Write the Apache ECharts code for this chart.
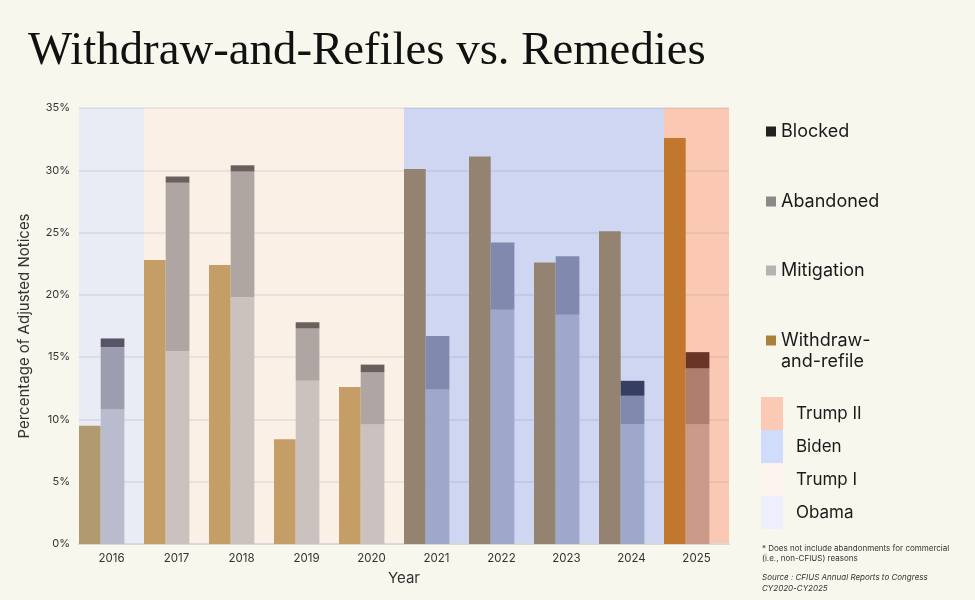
<!DOCTYPE html>
<html>
<head>
<meta charset="utf-8">
<script src="https://cdn.jsdelivr.net/npm/echarts@6/dist/echarts.min.js"></script>
<style>
  html, body { margin: 0; padding: 0; background: #f8f7ed; }
  #chart { width: 975px; height: 600px; }
</style>
</head>
<body>
<div id="chart"></div>
<script>
// ---- data ----
const years = ['2016', '2017', '2018', '2019', '2020', '2021', '2022', '2023', '2024', '2025'];
const withdrawRefile = [9.5, 22.8, 22.4, 8.4, 12.6, 30.1, 31.1, 22.6, 25.1, 32.6];
const mitigation = [10.8, 15.5, 19.8, 13.1, 9.6, 12.4, 18.8, 18.4, 9.6, 9.6];
const abandoned = [5.0, 13.5, 10.1, 4.2, 4.2, 4.3, 5.4, 4.7, 2.3, 4.5];
const blocked = [0.7, 0.5, 0.5, 0.5, 0.6, 0, 0, 0, 1.2, 1.3];
const yearEra = ['Obama', 'Trump I', 'Trump I', 'Trump I', 'Trump I', 'Biden', 'Biden', 'Biden', 'Biden', 'Trump II'];
const eras = ['Trump II', 'Biden', 'Trump I', 'Obama'];
const yMax = 35;
const yStep = 5;

// ---- styles ----
const FONT = 'Inter, "Noto Sans", sans-serif';
const bandColor = { 'Obama': '#e9ecf5', 'Trump I': '#faf0e6', 'Biden': '#ced6f2', 'Trump II': '#fbc9b3' };
const bandLegendColor = { 'Obama': '#edf0fc', 'Trump I': '#fdf3ee', 'Biden': '#d0dcfc', 'Trump II': '#fcc9b4' };
const palette = {
  'Withdraw-and-refile': { legend: '#a8823a', 'Obama': '#b29a70', 'Trump I': '#c49e66', 'Biden': '#948371', 'Trump II': '#c2772f' },
  'Mitigation': { legend: '#b4b4b4', 'Obama': '#b8bccd', 'Trump I': '#cbc2bf', 'Biden': '#9da8cb', 'Trump II': '#cc9a8a' },
  'Abandoned': { legend: '#8a8a8a', 'Obama': '#9b9eae', 'Trump I': '#afa5a2', 'Biden': '#808aae', 'Trump II': '#b07e6e' },
  'Blocked': { legend: '#222222', 'Obama': '#555566', 'Trump I': '#6a5f5d', 'Biden': '#363f62', 'Trump II': '#6a3526' }
};

function coloredData(name, values) {
  return values.map((v, i) => ({ value: v, itemStyle: { color: palette[name][yearEra[i]] } }));
}

const W_BAR = 21.7, S_BAR = 23.7, SPACER = 19.6;

const series = [];
// era background bands
eras.forEach(era => {
  series.push({
    name: era,
    type: 'bar',
    xAxisIndex: 1,
    stack: 'era',
    barCategoryGap: '0%',
    barWidth: '100%',
    silent: true,
    z: 1,
    itemStyle: { color: bandColor[era] },
    data: years.map((y, i) => yearEra[i] === era ? yMax : '-')
  });
});
series.push({
  name: 'Withdraw-and-refile', type: 'bar', barWidth: W_BAR, barGap: '0%', z: 5,
  itemStyle: { color: palette['Withdraw-and-refile'].legend },
  data: coloredData('Withdraw-and-refile', withdrawRefile)
});
series.push({
  name: 'Mitigation', type: 'bar', stack: 'remedy', barWidth: S_BAR, barGap: '0%', z: 5,
  itemStyle: { color: palette['Mitigation'].legend },
  data: coloredData('Mitigation', mitigation)
});
series.push({
  name: 'Abandoned', type: 'bar', stack: 'remedy', barWidth: S_BAR, barGap: '0%', z: 5,
  itemStyle: { color: palette['Abandoned'].legend },
  data: coloredData('Abandoned', abandoned)
});
series.push({
  name: 'Blocked', type: 'bar', stack: 'remedy', barWidth: S_BAR, barGap: '0%', z: 5,
  itemStyle: { color: palette['Blocked'].legend },
  data: coloredData('Blocked', blocked)
});
series.push({
  name: 'spacer', type: 'bar', barWidth: SPACER, barGap: '0%', silent: true,
  data: years.map(() => '-')
});

function seriesLegend(name, top, formatter) {
  return {
    data: [name],
    left: 766, top: top, padding: 0,
    orient: 'vertical',
    selectedMode: false,
    icon: 'rect', itemWidth: 10, itemHeight: 10,
    textStyle: { fontFamily: FONT, fontSize: 18, color: '#1a1a1a', lineHeight: 21 },
    formatter: formatter
  };
}

const option = {
  backgroundColor: '#f8f7ed',
  animation: false,
  title: [
    {
      text: 'Withdraw-and-Refiles vs. Remedies',
      left: 23, top: 23,
      textStyle: { fontFamily: '"Liberation Serif", serif', fontSize: 46.8, fontWeight: 'normal', color: '#111' }
    },
    {
      text: '* Does not include abandonments for commercial\n(i.e., non-CFIUS) reasons',
      left: 757, top: 538,
      textStyle: { fontFamily: FONT, fontSize: 8, lineHeight: 10.5, fontWeight: 'normal', color: '#333' }
    },
    {
      text: 'Source : CFIUS Annual Reports to Congress\nCY2020-CY2025',
      left: 757, top: 567,
      textStyle: { fontFamily: FONT, fontSize: 8, lineHeight: 11, fontWeight: 'normal', fontStyle: 'italic', color: '#333' }
    }
  ],
  legend: [
    seriesLegend('Blocked', 121),
    seriesLegend('Abandoned', 191),
    seriesLegend('Mitigation', 260),
    seriesLegend('Withdraw-and-refile', 309, () => '\nWithdraw-\nand-refile'),
    {
      data: eras.map(e => ({ name: e, itemStyle: { color: bandLegendColor[e] } })),
      left: 761, top: 397, padding: 0,
      orient: 'vertical',
      selectedMode: false,
      icon: 'rect', itemWidth: 22, itemHeight: 33, itemGap: 0,
      textStyle: { fontFamily: FONT, fontSize: 17, color: '#1a1a1a', padding: [0, 0, 0, 8] }
    }
  ],
  grid: { left: 79, right: 246, top: 108, bottom: 56, containLabel: false },
  xAxis: [
    {
      type: 'category', data: years, z: 3,
      name: 'Year', nameLocation: 'middle', nameGap: 27,
      nameTextStyle: { fontFamily: FONT, fontSize: 15, color: '#333' },
      axisLine: { lineStyle: { color: '#d9d9dc', width: 2 } },
      axisTick: { show: false },
      axisLabel: { fontFamily: FONT, fontSize: 11.5, color: '#333', margin: 9 }
    },
    { type: 'category', data: years, show: false }
  ],
  yAxis: {
    type: 'value', min: 0, max: yMax, interval: yStep, z: 3,
    name: 'Percentage of Adjusted Notices', nameLocation: 'middle', nameGap: 47,
    nameTextStyle: { fontFamily: FONT, fontSize: 15, color: '#333' },
    axisLabel: { formatter: '{value}%', fontFamily: FONT, fontSize: 11, color: '#333', margin: 9 },
    axisLine: { show: false },
    axisTick: { show: false },
    splitLine: { lineStyle: { color: 'rgba(70,80,120,0.09)', width: 2 } }
  },
  series: series
};

const chart = echarts.init(document.getElementById('chart'), null, { renderer: 'canvas' });
chart.setOption(option);
</script>
</body>
</html>
